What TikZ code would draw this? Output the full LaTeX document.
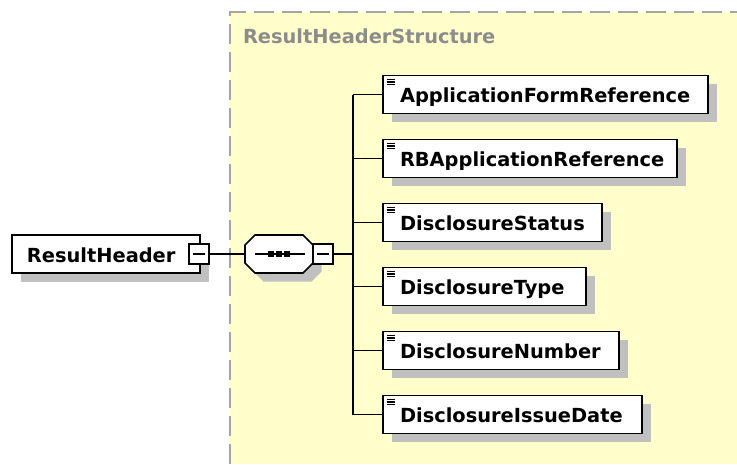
\documentclass[tikz,border=0pt]{standalone}
\usepackage{fontspec}
\setmainfont{DejaVu Sans}
\usetikzlibrary{shadows}
\definecolor{bgyellow}{RGB}{255,255,204}
\definecolor{shadowgray}{RGB}{192,192,192}
\definecolor{titlegray}{RGB}{140,140,140}
\definecolor{bordergray}{RGB}{165,165,165}
\begin{document}
\begin{tikzpicture}[x=1pt,y=-1pt,
  every node/.style={inner sep=0pt, outer sep=0pt},
  shad/.style={drop shadow={shadow xshift=8.5pt, shadow yshift=-8.5pt, fill=shadowgray, opacity=1}},
  elembox/.style={draw=black, line width=1.7pt, fill=white, rectangle, anchor=west, minimum height=38pt, shad},
  lbl/.style={font=\bfseries\fontsize{19.4}{23}\selectfont, anchor=base west},
  conn/.style={line width=1.6pt},
  minusbox/.style={draw=black, line width=1.5pt, fill=white, rectangle, minimum size=20pt},
  icon/.style={line width=1.1pt}
]
\useasboundingbox (0,0) rectangle (737,464);
% background structure
\fill[bgyellow] (230,12) rectangle (737,464);
\draw[bordergray, line width=2pt, dash pattern=on 20pt off 8pt] (230,464) -- (230,12) -- (737,12);
\node[lbl, text=titlegray] (title) at (243,43) {ResultHeaderStructure};
% root element
\node[elembox, minimum width=188pt] (rh) at (12,254) {};
\node[lbl] (rhl) at (27,262) {ResultHeader};
\node[minusbox] (rhm) at (199,254) {};
\draw[line width=1.4pt] ([xshift=-6pt]rhm.center) -- ([xshift=6pt]rhm.center);
% sequence compositor
\node[minimum width=68pt, minimum height=38pt] (seq) at (279,254) {};
\fill[shadowgray, shift={(seq.center)}] (-15.5,-10.5) -- (32.5,-10.5) -- (42.5,-0.5) -- (42.5,17.5) -- (32.5,27.5) -- (-15.5,27.5) -- (-25.5,17.5) -- (-25.5,-0.5) -- cycle;
\filldraw[fill=white, draw=black, line width=1.7pt, shift={(seq.center)}] (-24,-19) -- (24,-19) -- (34,-9) -- (34,9) -- (24,19) -- (-24,19) -- (-34,9) -- (-34,-9) -- cycle;
\draw[line width=1.6pt] ([xshift=-24pt]seq.center) -- ([xshift=26pt]seq.center);
\foreach \dx in {-11,-3,5} {
  \fill ([xshift=\dx pt, yshift=-2.8pt]seq.center) rectangle ([xshift=\dx pt+6pt, yshift=2.8pt]seq.center);
}
\node[minusbox] (sm) at (323,254) {};
\draw[line width=1.4pt] ([xshift=-6pt]sm.center) -- ([xshift=6pt]sm.center);
\draw[conn] (rhm.east) -- (seq.west);
\coordinate (bus) at (353,254);
\draw[conn] (sm.east) -- (bus);
% children
\foreach \name/\cy/\w/\txt in {
  c1/94.5/325/ApplicationFormReference,
  c2/158.5/294/RBApplicationReference,
  c3/222.5/219/DisclosureStatus,
  c4/286.5/203/DisclosureType,
  c5/350.5/236/DisclosureNumber,
  c6/414.5/259/DisclosureIssueDate} {
  \node[elembox, minimum width=\w pt] (\name) at (383,\cy) {};
  \node[lbl] (\name l) at (400,\cy+7.5) {\txt};
  \foreach \dy in {-15,-12.5,-10} {
    \draw[icon] ([xshift=4pt, yshift=-\dy pt]\name.west) -- ([xshift=12pt, yshift=-\dy pt]\name.west);
  }
  \draw[conn] (\name.west -| bus) -- (\name.west);
}
\draw[conn] (c1.west -| bus) -- (c6.west -| bus);
\end{tikzpicture}
\end{document}
